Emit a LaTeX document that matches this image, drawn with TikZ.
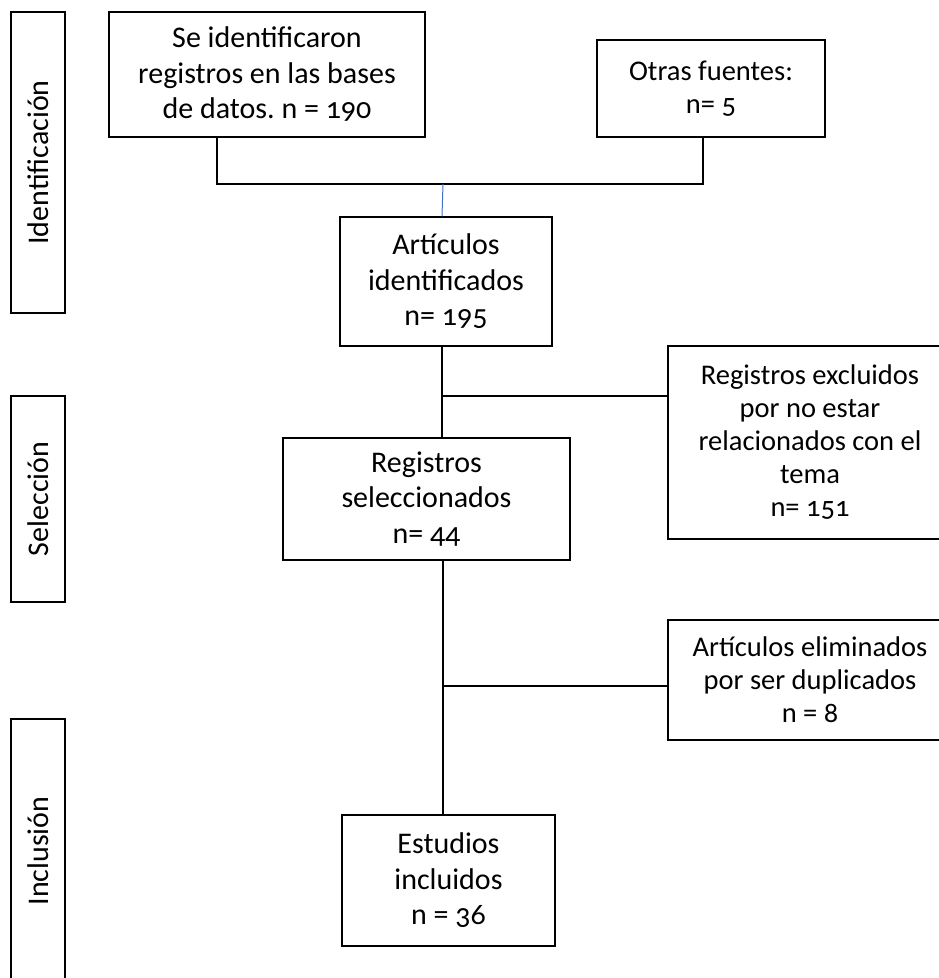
\documentclass[tikz,border=0pt]{standalone}
\usepackage{fontspec}
\setmainfont{Carlito}[Numbers=OldStyle]
\usepackage{xcolor}
\usetikzlibrary{positioning, calc}
\definecolor{linkblue}{HTML}{4472C4}
\frenchspacing

\begin{document}
\begin{tikzpicture}[
    x=1pt, y=-1pt,
    box/.style={draw, line width=1.4pt, align=center, inner sep=0pt,
        font=\fontsize{30}{35.5}\selectfont},
    sidebox/.style={box, font=\fontsize{28.5}{33}\selectfont},
    phase/.style={draw, line width=1.4pt, rotate=90, minimum height=54pt, inner sep=0pt,
        font=\fontsize{30}{32}\selectfont},
    link/.style={line width=1.4pt},
    bluelink/.style={line width=1pt, draw=linkblue}
]
    \useasboundingbox (0,0) rectangle (939,978);

    % phase labels
    \node[phase, minimum width=301pt] (identif) at (38,162.5) {Identificación};
    \node[phase, minimum width=206pt] (selecc) at (38,499) {Selección};
    \node[phase, minimum width=264pt] (inclus) at (38,851) {Inclusión};

    % flow boxes
    \node[box, minimum width=316pt, minimum height=125pt] (bases) at (267,74.5)
        {Se identificaron\\registros en las bases\\de datos. n = 190};
    \node[sidebox, minimum width=228pt, minimum height=97pt] (otras) at (711,88.5)
        {Otras fuentes:\\n= 5};
    \node[box, minimum width=212pt, minimum height=129pt] (artic) at (446,281.5)
        {Artículos\\identificados\\n= 195};
    \node[box, minimum width=287pt, minimum height=122pt] (regsel) at (426.5,499)
        {Registros\\seleccionados\\n= 44};
    \node[box, minimum width=213pt, minimum height=131pt] (estud) at (448.5,880.5)
        {Estudios\\incluidos\\n = 36};
    \node[sidebox, minimum width=284pt, minimum height=193pt] (excl) at (810,442.5)
        {Registros excluidos\\por no estar\\relacionados con el\\tema\\n= 151};
    \node[sidebox, minimum width=284pt, minimum height=120pt] (elim) at (810,680)
        {Artículos eliminados\\por ser duplicados\\n = 8};

    % junctions
    \coordinate (join) at (443,184);
    \coordinate (cut1) at (442,396);
    \coordinate (cut2) at (443,686);

    \draw[link] ([xshift=-50pt]bases.south) |- (join) -| ([xshift=-8pt]otras.south);
    \draw[bluelink] (join) -- ([xshift=-4pt]artic.north);
    \draw[link] (artic.south -| cut1) -- (regsel.north -| cut1);
    \draw[link] (cut1) -- (cut1 -| excl.west);
    \draw[link] (regsel.south -| cut2) -- (estud.north -| cut2);
    \draw[link] (cut2) -- (cut2 -| elim.west);
\end{tikzpicture}
\end{document}
